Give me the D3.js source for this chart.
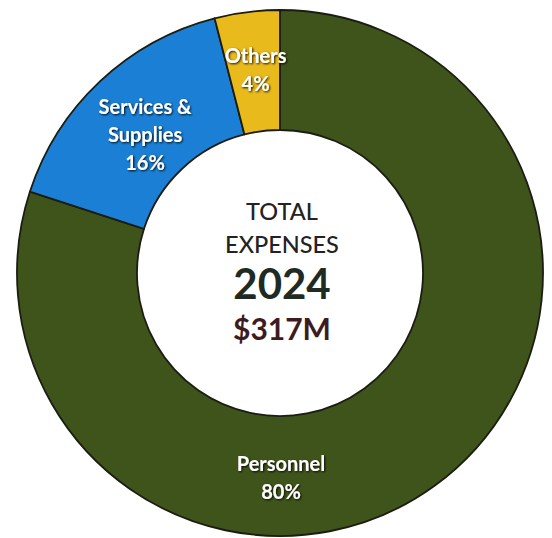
<!DOCTYPE html>
<html>
<head>
<meta charset="utf-8">
<script src="https://cdn.jsdelivr.net/npm/d3@7"></script>
<style>
  html, body { margin: 0; padding: 0; background: #fff; }
  svg { display: block; }
</style>
</head>
<body>
<svg id="chart" width="552" height="538"></svg>
<script>
// Expense breakdown, 2024
const categories = ["Personnel", "Services & Supplies", "Others"];
const shares = [80, 16, 4];
const labelLines = [["Personnel", "80%"], ["Services &", "Supplies", "16%"], ["Others", "4%"]];
const colors = ["#3f541a", "#1b80d5", "#e9ba1c"];
const centerLines = ["TOTAL", "EXPENSES", "2024", "$317M"];

const W = 552, H = 538;
const cx = 280, cy = 273;
const outerR = 263, innerR = 143;

const svg = d3.select("#chart");

const defs = svg.append("defs");
const shadow = defs.append("filter").attr("id", "txtShadow")
  .attr("x", "-20%").attr("y", "-20%").attr("width", "140%").attr("height", "140%");
shadow.append("feDropShadow").attr("dx", 1).attr("dy", 1)
  .attr("stdDeviation", 0.8).attr("flood-color", "#000").attr("flood-opacity", 0.9);

const data = categories.map((name, i) => ({ name, value: shares[i], i }));

const pie = d3.pie().value(d => d.value).sort(null);
const arcs = pie(data);
const arc = d3.arc().innerRadius(innerR).outerRadius(outerR);
const labelArc = d3.arc().innerRadius((innerR + outerR) / 2).outerRadius((innerR + outerR) / 2);

const g = svg.append("g").attr("transform", `translate(${cx},${cy})`);

g.selectAll("path.slice")
  .data(arcs)
  .join("path")
  .attr("class", "slice")
  .attr("d", arc)
  .attr("fill", d => colors[d.data.i])
  .attr("stroke", "#1b1c12")
  .attr("stroke-width", 1.8)
  .attr("stroke-linejoin", "round");

// Personnel label sits at the bottom of the ring; others near their slice centroids
const labelAngle = { "Personnel": Math.PI };
const labelNudge = { "Services & Supplies": [4, 10], "Others": [1, -2], "Personnel": [1, 2] };
const lineH = 28;
arcs.forEach(d => {
  let pos;
  if (labelAngle[d.data.name] !== undefined) {
    const a = labelAngle[d.data.name];
    pos = labelArc.centroid({ startAngle: a, endAngle: a });
  } else {
    pos = labelArc.centroid(d);
  }
  const nudge = labelNudge[d.data.name] || [0, 0];
  const lines = labelLines[d.data.i];
  const t = g.append("text")
    .attr("text-anchor", "middle")
    .attr("font-family", "Lato, 'Open Sans', sans-serif")
    .attr("font-weight", 700)
    .attr("font-size", 20)
    .attr("fill", "#fff")
    .attr("filter", "url(#txtShadow)");
  lines.forEach((ln, k) => {
    t.append("tspan")
      .attr("x", pos[0] + nudge[0])
      .attr("y", pos[1] + nudge[1] + (k - (lines.length - 1) / 2) * lineH + 7)
      .text(ln);
  });
});

// Centre title
const center = svg.append("g").attr("font-family", "Lato, 'Open Sans', sans-serif")
  .attr("text-anchor", "middle");
center.append("text").attr("x", 282).attr("y", 220)
  .attr("font-size", 23.5).attr("font-weight", 500).attr("fill", "#222")
  .text(centerLines[0]);
center.append("text").attr("x", 282).attr("y", 253)
  .attr("font-size", 23.5).attr("font-weight", 500).attr("fill", "#222")
  .text(centerLines[1]);
center.append("text").attr("x", 282).attr("y", 299)
  .attr("font-size", 42).attr("font-weight", 700).attr("fill", "#1e2a22")
  .text(centerLines[2]);
center.append("text").attr("x", 282).attr("y", 340)
  .attr("font-size", 30).attr("font-weight", 700).attr("fill", "#3e1a21")
  .text(centerLines[3]);
</script>
</body>
</html>
